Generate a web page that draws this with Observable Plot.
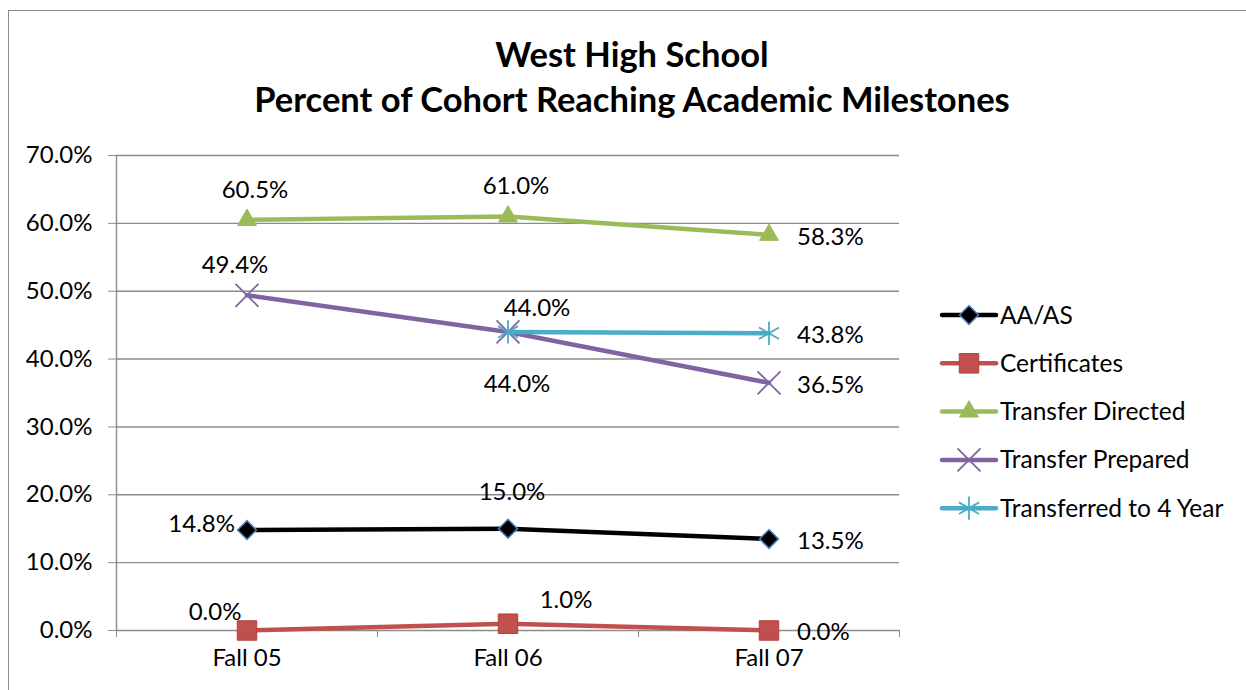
<!DOCTYPE html>
<html><head><meta charset="utf-8">
<script src="https://cdn.jsdelivr.net/npm/d3@7"></script>
<script src="https://cdn.jsdelivr.net/npm/@observablehq/plot@0.6"></script>
<style>
html,body{margin:0;padding:0;background:#fff;}
body{width:1246px;height:690px;overflow:hidden;position:relative;font-family:Lato,"Open Sans",sans-serif;}
#frame{position:absolute;left:8px;top:10px;width:1400px;height:900px;border:1.5px solid #8c8c8c;box-sizing:border-box;}
#title{position:absolute;left:0;top:31px;width:1264px;text-align:center;font-weight:bold;font-size:34.5px;line-height:45px;color:#000;}
#chart{position:absolute;left:0;top:0;}
#legend{position:absolute;left:0;top:0;}
g[aria-label="y-axis tick"], g[aria-label="x-axis tick"]{stroke:#8c8c8c;}
.tick line{stroke:#8c8c8c;}
</style>
</head><body>
<div id="frame"></div>
<div id="title">West High School<br>Percent of Cohort Reaching Academic Milestones</div>
<div id="chart"></div>
<svg id="legend" width="1246" height="690"></svg>
<script>
// ---- data ----
const categories = ["Fall 05", "Fall 06", "Fall 07"];
const seriesNames = ["AA/AS", "Certificates", "Transfer Directed", "Transfer Prepared", "Transferred to 4 Year"];
const aaas = [14.8, 15.0, 13.5];
const certificates = [0.0, 1.0, 0.0];
const transferDirected = [60.5, 61.0, 58.3];
const transferPrepared = [49.4, 44.0, 36.5];
const transferred4Year = [null, 44.0, 43.8];
const yTicks = [0, 10, 20, 30, 40, 50, 60, 70];
// label placement names per series (per category)
const aaasLabels = ["left", "aboveHigh", "right"];
const certificatesLabels = ["aboveLeft", "aboveRight", "right"];
const transferDirectedLabels = ["above", "above", "right"];
const transferPreparedLabels = ["aboveShift", "below", "right"];
const transferred4YearLabels = [null, "aboveWide", "right"];

// ---- styles ----
const gray = "#8c8c8c";
const fontFamily = "Lato, 'Open Sans', sans-serif";
const seriesValues = [aaas, certificates, transferDirected, transferPrepared, transferred4Year];
const seriesLabels = [aaasLabels, certificatesLabels, transferDirectedLabels, transferPreparedLabels, transferred4YearLabels];
const seriesStyle = {
  "AA/AS": {color: "#000000", symbol: "diamond2", r: 8.5, fill: "#000000", stroke: "#4f81bd", sw: 1.5},
  "Certificates": {color: "#c0504d", symbol: "square", r: 11, fill: "#c0504d", stroke: "#b5413e", sw: 1},
  "Transfer Directed": {color: "#9bbb59", symbol: "triangle", r: 7, fill: "#9bbb59", stroke: "#9bbb59", sw: 1},
  "Transfer Prepared": {color: "#8064a2", symbol: "times", r: 10.5, fill: "none", stroke: "#8064a2", sw: 1.8},
  "Transferred to 4 Year": {color: "#4bacc6", symbol: "asterisk", r: 11, fill: "none", stroke: "#4bacc6", sw: 1.8}
};
const placements = {
  above: {dx: 8, dy: -30, anchor: "middle"},
  aboveShift: {dx: -12, dy: -30, anchor: "middle"},
  aboveHigh: {dx: 4, dy: -36, anchor: "middle"},
  aboveWide: {dx: 29, dy: -24, anchor: "middle"},
  aboveLeft: {dx: -32, dy: -18, anchor: "middle"},
  aboveRight: {dx: 58, dy: -23, anchor: "middle"},
  below: {dx: 9, dy: 52, anchor: "middle"},
  right: {dx: 28, dy: 2, anchor: "start"},
  left: {dx: -12, dy: -6, anchor: "end"}
};

const rows = [];
seriesNames.forEach((s, k) => {
  seriesValues[k].forEach((v, i) => {
    if (v != null) rows.push({series: s, cat: categories[i], value: v, place: seriesLabels[k][i]});
  });
});
const xOf = d => categories.indexOf(d.cat) + 0.5;

const marks = [
  Plot.ruleY(yTicks, {stroke: gray, strokeWidth: 1.4}),
  Plot.ruleX([0], {stroke: gray, strokeWidth: 1.4}),
  Plot.text(categories, {x: (d, i) => i + 0.5, text: d => d, frameAnchor: "bottom", dy: 35, fill: "#000"})
];
for (const s of seriesNames) {
  const st = seriesStyle[s];
  const data = rows.filter(d => d.series === s);
  marks.push(Plot.line(data, {x: xOf, y: "value", stroke: st.color, strokeWidth: 4.5, strokeLinecap: "round", strokeLinejoin: "round"}));
  marks.push(Plot.dot(data, {x: xOf, y: "value", symbol: st.symbol, r: st.r, fill: st.fill, stroke: st.stroke, strokeWidth: st.sw}));
}
for (const [name, p] of Object.entries(placements)) {
  marks.push(Plot.text(rows.filter(d => d.place === name), {
    x: xOf, y: "value", text: d => d.value.toFixed(1) + "%",
    dx: p.dx, dy: p.dy, textAnchor: p.anchor, fill: "#000"
  }));
}

const chart = Plot.plot({
  width: 1246, height: 690,
  marginLeft: 116, marginRight: 347, marginTop: 155, marginBottom: 60,
  style: {fontFamily, fontSize: "24px", background: "transparent", color: "#000", overflow: "visible"},
  x: {type: "linear", domain: [0, categories.length], ticks: d3.range(categories.length + 1), tickFormat: () => "", tickSize: 7, label: null},
  y: {domain: [0, 70], ticks: yTicks, tickFormat: d => d.toFixed(1) + "%", tickSize: 8, tickPadding: 16, label: null},
  marks
});
document.getElementById("chart").appendChild(chart);

// ---- legend ----
const symbolMap = {diamond2: d3.symbolDiamond2, square: d3.symbolSquare, triangle: d3.symbolTriangle, times: d3.symbolTimes, asterisk: d3.symbolAsterisk};
const leg = d3.select("#legend");
seriesNames.forEach((s, k) => {
  const st = seriesStyle[s];
  const y = 315 + k * 48.3;
  const g = leg.append("g").attr("transform", `translate(0,${y})`);
  g.append("line").attr("x1", 942).attr("x2", 996).attr("y1", 0).attr("y2", 0)
    .attr("stroke", st.color).attr("stroke-width", 4.5).attr("stroke-linecap", "round");
  g.append("path").attr("transform", "translate(969,0)")
    .attr("d", d3.symbol(symbolMap[st.symbol], st.r * st.r * Math.PI)())
    .attr("fill", st.fill).attr("stroke", st.stroke).attr("stroke-width", st.sw);
  g.append("text").attr("x", 1000).attr("y", 0).attr("dy", "0.35em")
    .attr("font-family", fontFamily).attr("font-size", 24.5).text(s);
});
</script>
</body></html>
